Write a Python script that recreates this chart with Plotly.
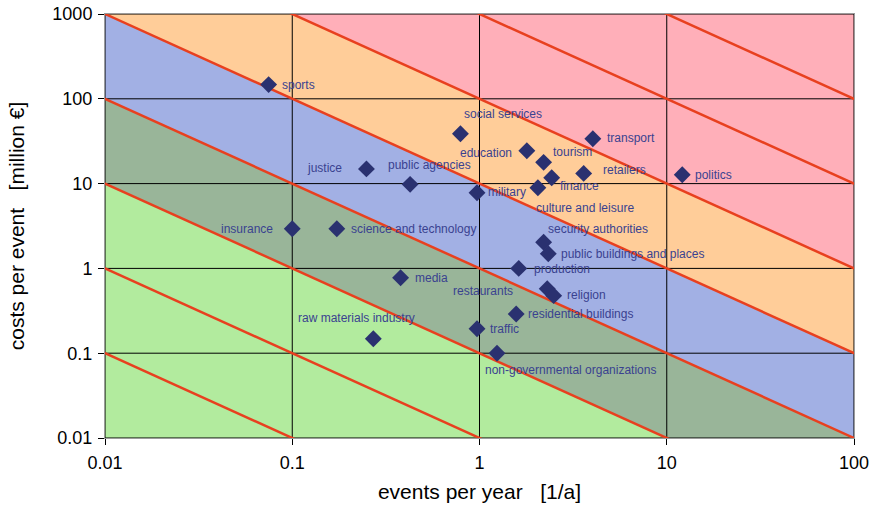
import math
import plotly.graph_objects as go

# ---------------- data ----------------
categories = [
    "sports", "social services", "transport", "education", "tourism", "finance",
    "retailers", "politics", "culture and leisure", "military", "justice",
    "public agencies", "insurance", "science and technology", "security authorities",
    "public buildings and places", "production", "media", "restaurants", "religion",
    "residential buildings", "raw materials industry", "traffic",
    "non-governmental organizations",
]
events_per_year = [
    0.0748, 0.791, 4.03, 1.79, 2.20, 2.43,
    3.60, 12.1, 2.05, 0.97, 0.249,
    0.426, 0.100, 0.173, 2.20,
    2.33, 1.62, 0.379, 2.30, 2.49,
    1.57, 0.271, 0.97,
    1.24,
]
costs_per_event = [
    147, 38.7, 33.8, 24.4, 17.8, 11.7,
    13.2, 12.7, 8.95, 7.8, 14.9,
    9.8, 2.94, 2.94, 2.03,
    1.49, 1.0, 0.776, 0.576, 0.477,
    0.290, 0.148, 0.194,
    0.100,
]
# label placement (pixel offsets relative to the marker)
label_anchor = [
    "left", "left", "left", "right", "left", "left",
    "left", "left", "left", "left", "right",
    "left", "right", "left", "left",
    "left", "left", "left", "right", "left",
    "left", "left", "left",
    "left",
]
label_dx = [
    11, 2, 12, -13, 7, 6,
    17, 11, -4, 9, -22,
    -24, -17, 12, 2,
    11, 13, 12, -32, 11,
    10, -77, 11,
    -14,
]
label_dy = [
    0, 20, 1, -2, 10, -8,
    3, 0, -20, 1, 1,
    19, 0, 0, 13,
    0, -1, 0, -2, 1,
    0, 21, 0,
    -17,
]

x_ticks = [0.01, 0.1, 1, 10, 100]
x_ticktext = ["0.01", "0.1", "1", "10", "100"]
y_ticks = [0.01, 0.1, 1, 10, 100, 1000]
y_ticktext = ["0.01", "0.1", "1", "10", "100", "1000"]

# risk bands: annual expected costs (events/a * costs/event) thresholds
band_limits = [1e-9, 0.1, 1, 10, 100, 1e9]
band_colors = ["#B2EB9E", "#99B599", "#A2B0E4", "#FFCD99", "#FFAFB9"]
# iso-risk lines (x*y = const)
iso_products = [1e-3, 1e-2, 0.1, 1, 10, 100, 1e3, 1e4]

X_EXT = [1e-3, 1e3]  # beyond axis range; clipped by the plot area

fig = go.Figure()

# bands
for lo, hi, col in zip(band_limits[:-1], band_limits[1:], band_colors):
    xs = [X_EXT[0], X_EXT[1], X_EXT[1], X_EXT[0], X_EXT[0]]
    ys = [hi / X_EXT[0], hi / X_EXT[1], lo / X_EXT[1], lo / X_EXT[0], hi / X_EXT[0]]
    fig.add_trace(go.Scatter(x=xs, y=ys, mode="lines", fill="toself",
                             fillcolor=col, line=dict(width=0),
                             hoverinfo="skip", showlegend=False))

# grid lines (over the bands)
gx, gy = [], []
for v in x_ticks:
    gx += [v, v, None]
    gy += [y_ticks[0], y_ticks[-1], None]
for v in y_ticks:
    gx += [x_ticks[0], x_ticks[-1], None]
    gy += [v, v, None]
fig.add_trace(go.Scatter(x=gx, y=gy, mode="lines",
                         line=dict(color="black", width=1),
                         hoverinfo="skip", showlegend=False))

# iso-risk lines
lx, ly = [], []
for p in iso_products:
    lx += [X_EXT[0], X_EXT[1], None]
    ly += [p / X_EXT[0], p / X_EXT[1], None]
fig.add_trace(go.Scatter(x=lx, y=ly, mode="lines",
                         line=dict(color="#E8401F", width=2.5),
                         hoverinfo="skip", showlegend=False))

# points
fig.add_trace(go.Scatter(x=events_per_year, y=costs_per_event, mode="markers",
                         marker=dict(symbol="diamond", size=13, color="#2A3170"),
                         text=categories, hoverinfo="text", showlegend=False,
                         cliponaxis=False))

for name, xv, yv, anc, dx, dy in zip(categories, events_per_year, costs_per_event,
                                     label_anchor, label_dx, label_dy):
    fig.add_annotation(x=math.log10(xv), y=math.log10(yv), text=name,
                       showarrow=False, xanchor=anc, yanchor="middle",
                       xshift=dx, yshift=dy,
                       font=dict(family="Liberation Sans, Arial", size=12, color="#3A4290"))

axis_common = dict(type="log", showgrid=False, zeroline=False, automargin=False,
                   showline=True, linecolor="#9a9a9a", linewidth=1, mirror=True,
                   ticks="outside", ticklen=6, tickcolor="black", tickwidth=1,
                   tickfont=dict(family="Liberation Sans, Arial", size=18, color="black"))

fig.update_xaxes(range=[-2, 2], tickvals=x_ticks, ticktext=x_ticktext,
                 ticklabelstandoff=2,
                 title=dict(text="events per year   [1/a]", standoff=12,
                            font=dict(family="Liberation Sans, Arial", size=21, color="black")),
                 **axis_common)
fig.update_yaxes(range=[-2, 3], tickvals=y_ticks, ticktext=y_ticktext,
                 ticklabelstandoff=2,
                 title=dict(text="costs per event   [million €]", standoff=22,
                            font=dict(family="Liberation Sans, Arial", size=21, color="black")),
                 **axis_common)

fig.update_layout(width=874, height=506,
                  margin=dict(l=105, r=20, t=14, b=68),
                  paper_bgcolor="white", plot_bgcolor="white",
                  showlegend=False)

fig.write_html("out.html", config={"displayModeBar": False},
               post_script="document.body.style.margin='0';document.body.style.padding='0';")
